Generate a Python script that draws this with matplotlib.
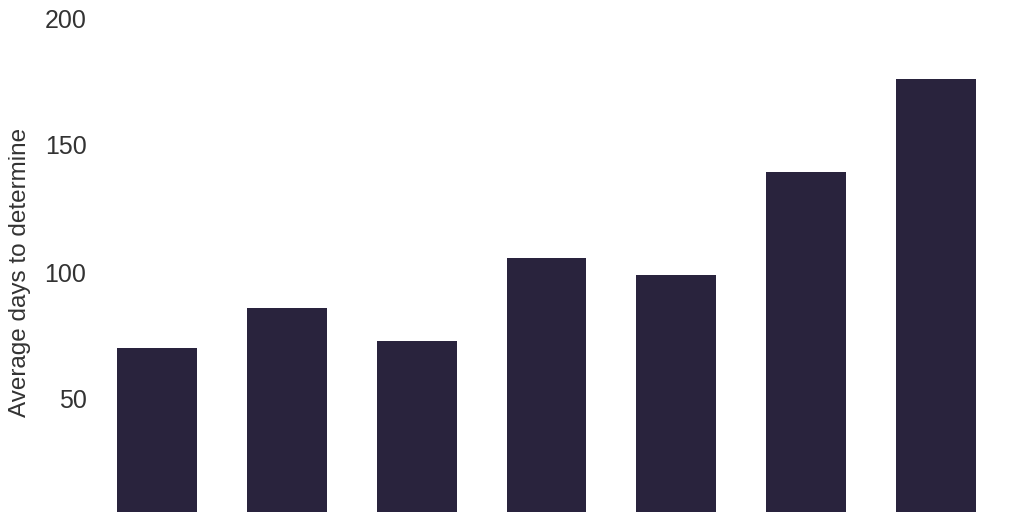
import matplotlib
matplotlib.use("Agg")
import matplotlib.pyplot as plt

# values (x labels are cut off in the reference)
categories = ["1", "2", "3", "4", "5", "6", "7"]
avg_days = [70, 86, 73, 105.5, 99, 139.5, 176]
yticks = [50, 100, 150, 200]

plt.rcParams['font.family'] = ['Liberation Sans', 'DejaVu Sans']

fig = plt.figure(figsize=(10.24, 5.12), dpi=100)
# axes runs past the bottom of the figure, as in the cropped reference
ax = fig.add_axes([92/1024, -14/512, 909/1024, 508/512])

ax.bar(range(len(categories)), avg_days, width=0.615, color='#29233d')

ax.set_xlim(-0.5, len(categories) - 0.5)
ax.set_ylim(0, 200)
ax.set_yticks(yticks)
ax.set_xticks([])
ax.tick_params(axis='y', length=0, pad=4, labelsize=18, labelcolor='#333333')
for s in ax.spines.values():
    s.set_visible(False)

ax.set_ylabel('Average days to determine', fontsize=17.5, color='#333333')
ax.yaxis.set_label_coords(-0.067, 0.5)

fig.savefig('out.png', dpi=100)
